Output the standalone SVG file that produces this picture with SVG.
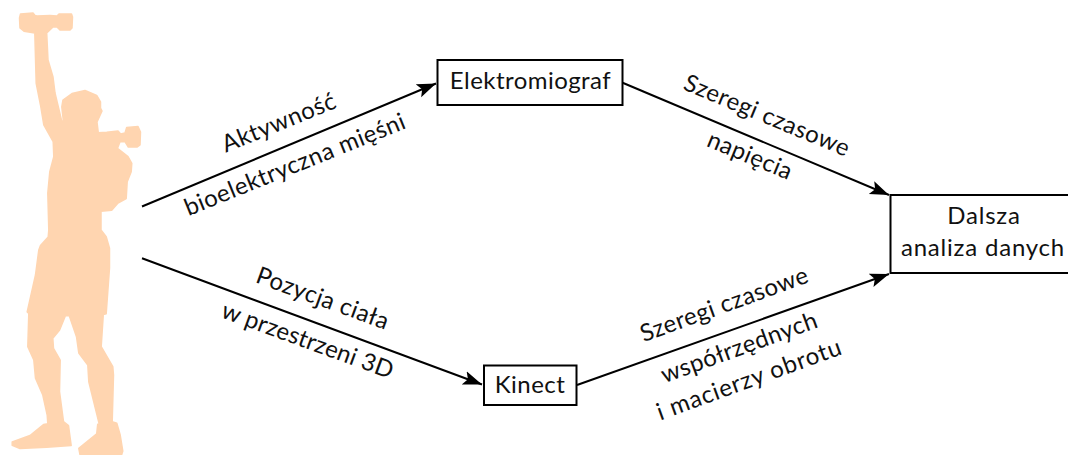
<svg xmlns="http://www.w3.org/2000/svg" width="1068" height="455" viewBox="0 0 1068 455">
<style>
.box{fill:#fff;stroke:#000;stroke-width:2}
.link{fill:none;stroke:#000;stroke-width:2;marker-end:url(#tip)}
text{font-family:"Lato","Noto Sans",sans-serif;font-size:24px;letter-spacing:.45px;fill:#111;text-anchor:middle}
.wide{letter-spacing:.8px}
.tight{letter-spacing:.15px}
</style>
<defs>
<marker id="tip" markerUnits="userSpaceOnUse" markerWidth="20" markerHeight="16" refX="19" refY="7.500" orient="auto">
<path d="M0 0.500L19 7.500L0 14.500L4 7.500Z" fill="#000"/>
</marker>
</defs>
<rect width="1068" height="455" fill="#fff"/>
<g id="athlete">
<path fill="#FFD5B0" stroke="#FFD5B0" stroke-width="1.500" stroke-linejoin="round" d="M19.500 18L20.500 14L33 13L35 15.500L37 16L50 15.500L57 16L59 14L71.500 14L72.500 17L72 28L70 30L60 30L57 27L53 27L46.700 33L48 60L53 77L55 93L61.700 121L63.500 122L61.800 107L63 100L72 93.500L85 90.500L96.700 95.500L100.500 102L100.500 108L102 111L97 122L98.300 132.800L106.700 132.300L118 131L120.700 134L125 133L126.700 127.500L138 126.500L140.500 132L140 145L137.300 147L128.300 147L125 141.700L120 141.700L117.500 148.300L128 156.700L131.800 163.300L131.200 171.700L127.200 181.700L126.200 198.500L118 203L111.700 210.200L101 211.200L101 230L106.200 236.700L109.500 248.300L109.500 268L106.200 313.800L103.300 314.500L101.200 346.700L112.800 366.700L113.500 375L112.200 421.700L116.800 423.300L120.200 435L122.800 451L121.700 454.500L80 454.500L78.800 448.300L96.700 433.800L97.700 424.300L99.300 424.300L88.800 381.700L87.800 365L78.800 353L76.500 336.700L69.300 315.700L65.400 315.700L59.600 330L52.800 338.300L53.500 348.300L60.200 360L59.500 391.700L63.500 421.700L68.500 425.500L71.200 445.500L46.700 447.200L20 448.500L12.200 445.200L12.200 442L30 435.500L43.500 424.500L47.800 423.800L47.200 415L42.800 395L35.500 378.300L33.800 360L27.800 346.700L28.800 313.300L27.200 312L35.500 275L38.800 250L40.500 245.500L48.200 237L48.800 230L47.800 193L49.800 171.700L53.800 156.700L53.200 141.700L43.800 125L40.500 105L36.200 83.300L34.800 33L24 31.200L20 28Z"/>
</g>
<g id="connectors">
<path class="link" d="M142 206.500L436 83.500"/>
<path class="link" d="M622 82.500L889 195"/>
<path class="link" d="M142 258.300L482 384.500"/>
<path class="link" d="M577 385L889 274"/>
</g>
<g id="elektromiograf">
<rect class="box" x="437.500" y="60" width="185" height="45"/>
<text x="530.500" y="89">Elektromiograf</text>
</g>
<g id="kinect">
<rect class="box" x="484" y="365.500" width="92.500" height="39.500"/>
<text x="530" y="393">Kinect</text>
</g>
<g id="analiza">
<rect class="box" x="890.500" y="195" width="190" height="78"/>
<text class="wide" x="984" y="224">Dalsza</text>
<text class="wide" x="983" y="256">analiza danych</text>
</g>
<g id="labels">
<text transform="translate(282 130) rotate(-22)">Aktywność</text>
<text transform="translate(298 172) rotate(-22)">bioelektryczna mięśni</text>
<text transform="translate(320 306) rotate(20)">Pozycja ciała</text>
<text class="tight" transform="translate(305 348) rotate(20)">w przestrzeni 3D</text>
<text transform="translate(764 123) rotate(22.500)">Szeregi czasowe</text>
<text transform="translate(747 163) rotate(22.500)">napięcia</text>
<text transform="translate(727 312) rotate(-20)">Szeregi czasowe</text>
<text transform="translate(742 355) rotate(-20)">współrzędnych</text>
<text class="wide" transform="translate(752 387) rotate(-20)">i macierzy obrotu</text>
</g>
</svg>
